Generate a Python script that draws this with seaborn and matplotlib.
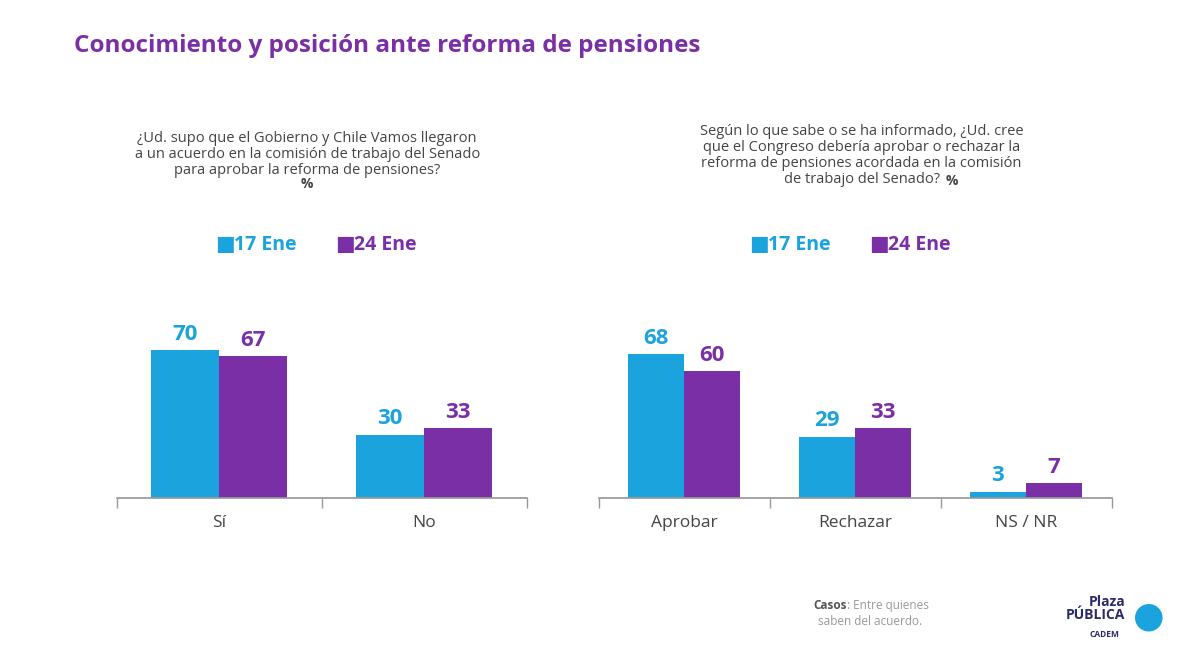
import matplotlib
matplotlib.use("Agg")
import matplotlib.pyplot as plt
import seaborn as sns
import pandas as pd

CYAN = "#1ba3dd"
PURPLE = "#7b2fa7"
GRAY = "#444444"

series = ["17 Ene", "24 Ene"]
left_cats = ["Sí", "No"]
left_17 = [70, 30]
left_24 = [67, 33]
right_cats = ["Aprobar", "Rechazar", "NS / NR"]
right_17 = [68, 29, 3]
right_24 = [60, 33, 7]

sns.set_theme(style="white")
plt.rcParams["font.family"] = ["Open Sans", "DejaVu Sans"]

fig = plt.figure(figsize=(12, 6.58), dpi=100)
ax_l = fig.add_axes([0.0971, 0.2432, 0.3417, 0.2568])
ax_r = fig.add_axes([0.49875, 0.2432, 0.4275, 0.2568])


def draw(ax, cats, v17, v24):
    df = pd.DataFrame({
        "cat": cats * 2,
        "serie": [series[0]] * len(cats) + [series[1]] * len(cats),
        "val": v17 + v24,
    })
    sns.barplot(data=df, x="cat", y="val", hue="serie", order=cats,
                hue_order=series, palette=[CYAN, PURPLE], width=0.66,
                saturation=1, legend=False, linewidth=0, ax=ax)
    for cont, col in zip(ax.containers, [CYAN, PURPLE]):
        ax.bar_label(cont, padding=4, color=col, fontsize=16,
                     fontweight="bold", clip_on=False)
    ax.set_ylim(0, 80)
    ax.set_xlim(-0.5, len(cats) - 0.5)
    ax.set_xlabel("")
    ax.set_ylabel("")
    ax.set_yticks([])
    for s in ["top", "right", "left"]:
        ax.spines[s].set_visible(False)
    ax.spines["bottom"].set_color("#999999")
    ax.set_xticks([i - 0.5 for i in range(len(cats) + 1)], minor=True)
    ax.tick_params(axis="x", which="major", length=0, pad=12,
                   labelsize=12.5, labelcolor=GRAY)
    ax.tick_params(axis="x", which="minor", length=7, direction="out",
                   color="#999999", bottom=True)


draw(ax_l, left_cats, left_17, left_24)
draw(ax_r, right_cats, right_17, right_24)

fig.text(0.062, 0.93, "Conocimiento y posición ante reforma de pensiones",
         color=PURPLE, fontsize=17.5, fontweight="bold", va="center")

fig.text(0.256, 0.765,
         "¿Ud. supo que el Gobierno y Chile Vamos llegaron\n"
         "a un acuerdo en la comisión de trabajo del Senado\n"
         "para aprobar la reforma de pensiones?",
         ha="center", va="center", fontsize=10.5, color=GRAY, linespacing=1.1)
fig.text(0.256, 0.72, "%", ha="center", va="center", fontsize=10,
         color=GRAY, fontweight="bold")
fig.text(0.718, 0.776,
         "Según lo que sabe o se ha informado, ¿Ud. cree\n"
         "que el Congreso debería aprobar o rechazar la\n"
         "reforma de pensiones acordada en la comisión",
         ha="center", va="center", fontsize=10.5, color=GRAY, linespacing=1.1)
fig.text(0.783, 0.727, "de trabajo del Senado?", ha="right", va="center",
         fontsize=10.5, color=GRAY)
fig.text(0.788, 0.725, "%", ha="left", va="center", fontsize=10,
         color=GRAY, fontweight="bold")


def legend(x):
    y = 0.628
    fig.text(x, y, "■", color=CYAN, fontsize=15, va="center")
    fig.text(x + 0.016, y, "17 Ene", color=CYAN, fontsize=14,
             fontweight="bold", va="center")
    fig.text(x + 0.1, y, "■", color=PURPLE, fontsize=15, va="center")
    fig.text(x + 0.116, y, "24 Ene", color=PURPLE, fontsize=14,
             fontweight="bold", va="center")


legend(0.179)
legend(0.624)

fig.text(0.678, 0.08, "Casos", fontsize=8.5, color="#555555",
         fontweight="bold", va="center")
fig.text(0.706, 0.08, ": Entre quienes", fontsize=8.5, color="#999999",
         va="center")
fig.text(0.682, 0.055, "saben del acuerdo.", fontsize=8.5, color="#999999",
         va="center")

fig.text(0.938, 0.075, "Plaza\nPÚBLICA", ha="right", va="center",
         fontsize=10, color="#2a2a6a", fontweight="bold", linespacing=0.9)
fig.text(0.92, 0.035, "CADEM", ha="center", va="center", fontsize=6,
         color="#2a2a6a", fontweight="bold")
fig.text(0.957, 0.062, "●", ha="center", va="center", fontsize=26,
         color=CYAN)

fig.savefig("out.png", dpi=100, facecolor="white")
